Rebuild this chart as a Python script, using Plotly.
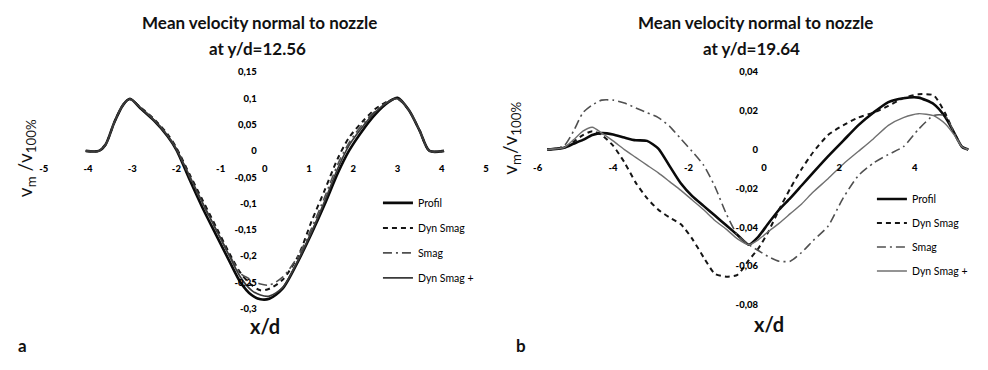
import plotly.graph_objects as go

# ---------------- panel a : y/d = 12.56 ----------------
xa = [-4.05, -3.75, -3.6, -3.4, -3.2, -3.05, -2.8, -2.5, -2.2, -2.0, -1.7, -1.4, -1.1,
      -0.8, -0.55, -0.3, -0.1, 0.1, 0.4, 0.75, 1.05, 1.35, 1.65, 1.9, 2.2, 2.5, 2.8,
      3.0, 3.25, 3.5, 3.72, 4.05]
a_profil = [0.0, 0.0, 0.012, 0.055, 0.088, 0.099, 0.08, 0.057, 0.028, 0.002, -0.055,
            -0.11, -0.16, -0.21, -0.25, -0.274, -0.282, -0.281, -0.262, -0.21, -0.158,
            -0.102, -0.042, 0.0, 0.038, 0.07, 0.093, 0.101, 0.078, 0.038, 0.0, 0.0]
a_dynsmag = [0.0, 0.0, 0.012, 0.055, 0.088, 0.098, 0.082, 0.06, 0.032, 0.006, -0.045,
             -0.095, -0.145, -0.195, -0.232, -0.255, -0.265, -0.262, -0.245, -0.2, -0.135,
             -0.075, -0.014, 0.025, 0.055, 0.08, 0.095, 0.099, 0.078, 0.038, 0.0, 0.0]
a_smag = [0.0, 0.0, 0.012, 0.055, 0.088, 0.098, 0.081, 0.059, 0.03, 0.004, -0.05,
          -0.102, -0.15, -0.198, -0.233, -0.245, -0.253, -0.255, -0.24, -0.2, -0.148,
          -0.088, -0.025, 0.015, 0.05, 0.076, 0.094, 0.1, 0.078, 0.038, 0.0, 0.0]
a_dynsmagp = [0.0, 0.0, 0.012, 0.055, 0.088, 0.099, 0.081, 0.058, 0.029, 0.003, -0.048,
              -0.1, -0.15, -0.2, -0.24, -0.265, -0.274, -0.276, -0.26, -0.208, -0.155,
              -0.096, -0.033, 0.01, 0.045, 0.074, 0.094, 0.099, 0.078, 0.038, 0.0, 0.0]

# ---------------- panel b : y/d = 19.64 ----------------
xb = [-5.75, -5.3, -5.05, -4.8, -4.55, -4.3, -4.0, -3.7, -3.4, -3.1, -2.8, -2.5, -2.2,
      -1.9, -1.6, -1.3, -1.0, -0.7, -0.4, -0.15, 0.1, 0.4, 0.7, 1.0, 1.3, 1.7, 2.1,
      2.5, 2.9, 3.3, 3.7, 4.1, 4.5, 4.8, 5.05, 5.25, 5.42]
b_profil = [0.0, 0.001, 0.003, 0.005, 0.0075, 0.0085, 0.0078, 0.0062, 0.0048, 0.0045,
            0.0005, -0.0085, -0.0175, -0.024, -0.029, -0.034, -0.039, -0.044, -0.049,
            -0.045, -0.0385, -0.031, -0.025, -0.0185, -0.012, -0.0035, 0.0045, 0.0125,
            0.019, 0.0245, 0.0265, 0.0268, 0.0235, 0.017, 0.0085, 0.0015, 0.0]
b_dynsmag = [0.0, 0.001, 0.004, 0.0075, 0.0095, 0.0075, 0.002, -0.0065, -0.017, -0.025,
             -0.031, -0.035, -0.0385, -0.046, -0.0555, -0.064, -0.0655, -0.0645, -0.057,
             -0.051, -0.043, -0.031, -0.02, -0.01, -0.0015, 0.0075, 0.0125, 0.0165, 0.019,
             0.0225, 0.0265, 0.0285, 0.028, 0.019, 0.0085, 0.0015, 0.0]
b_smag = [0.0, 0.002, 0.0095, 0.019, 0.023, 0.0255, 0.0255, 0.024, 0.0215, 0.019,
          0.0165, 0.012, 0.0055, -0.001, -0.008, -0.019, -0.033, -0.044, -0.049, -0.052,
          -0.055, -0.0575, -0.0575, -0.053, -0.047, -0.0395, -0.025, -0.0135, -0.007,
          -0.0025, 0.0015, 0.0105, 0.0175, 0.0175, 0.0085, 0.0015, 0.0]
b_dynsmagp = [0.0, 0.001, 0.005, 0.0095, 0.0115, 0.0085, 0.0045, 0.0, -0.004, -0.008,
              -0.012, -0.0165, -0.021, -0.026, -0.031, -0.0365, -0.041, -0.046, -0.049,
              -0.0465, -0.0425, -0.038, -0.033, -0.028, -0.022, -0.015, -0.0075, -0.001,
              0.0055, 0.0125, 0.0165, 0.0185, 0.0175, 0.0135, 0.0075, 0.0015, 0.0]

series_names = ["Profil", "Dyn Smag", "Smag", "Dyn Smag +"]

xa_ticks = [-5, -4, -3, -2, -1, 0, 1, 2, 3, 4, 5]
xa_ticktext = ["-5", "-4", "-3", "-2", "-1", "0", "1", "2", "3", "4", "5"]
ya_ticks = [0.15, 0.1, 0.05, 0, -0.05, -0.1, -0.15, -0.2, -0.25, -0.3]
ya_ticktext = ["0,15", "0,1", "0,05", "0", "-0,05", "-0,1", "-0,15", "-0,2", "-0,25", "-0,3"]
xb_ticks = [-6, -4, -2, 0, 2, 4]
xb_ticktext = ["-6", "-4", "-2", "0", "2", "4"]
yb_ticks = [0.04, 0.02, 0, -0.02, -0.04, -0.06, -0.08]
yb_ticktext = ["0,04", "0,02", "0", "-0,02", "-0,04", "-0,06", "-0,08"]

W, H = 988, 370

# line styles per series
styles = [
    dict(color="#0a0a0a", width=2.6, dash="solid"),
    dict(color="#151515", width=2.0, dash="5px,4px"),
    dict(color="#505050", width=1.6, dash="9px,4px,2px,4px"),
    dict(color="#3a3a3a", width=1.7, dash="solid"),
]

fig = go.Figure()

for name, ys, st in zip(series_names, [a_profil, a_dynsmag, a_smag, a_dynsmagp], styles):
    fig.add_trace(go.Scatter(x=xa, y=ys, mode="lines", name=name,
                             line=dict(st, shape="spline", smoothing=0.8),
                             xaxis="x", yaxis="y", legend="legend",
                             legendgroup="a" + name))
for name, ys, st in zip(series_names, [b_profil, b_dynsmag, b_smag, b_dynsmagp], styles):
    st_b = dict(st, shape="spline", smoothing=0.6)
    if name == "Dyn Smag +":
        st_b.update(color="#707070", width=1.4)
    fig.add_trace(go.Scatter(x=xb, y=ys, mode="lines", name=name, line=st_b,
                             xaxis="x2", yaxis="y2", legend="legend2",
                             legendgroup="b" + name))


def frac_x(px):
    return px / W


def frac_y(py):
    return 1 - py / H


# panel geometry (pixel extents of the axis ranges)
xa_range, xa_px = [-5, 5], (39, 485)
ya_range, ya_py = [-0.3, 0.15], (312, 68)
xb_range, xb_px = [-6, 5.6], (537, 978)
yb_range, yb_py = [-0.08, 0.04], (308, 68)


def zero_pos(rng, dom):
    return dom[0] + (0 - rng[0]) / (rng[1] - rng[0]) * (dom[1] - dom[0])


xa_dom = [frac_x(xa_px[0]), frac_x(xa_px[1])]
ya_dom = [frac_y(ya_py[0]), frac_y(ya_py[1])]
xb_dom = [frac_x(xb_px[0]), frac_x(xb_px[1])]
yb_dom = [frac_y(yb_py[0]), frac_y(yb_py[1])]

tickfont = dict(family="Lato", size=9.5, color="#000000", weight=900)
axis_common = dict(showgrid=False, zeroline=False, showline=False, ticks="",
                   tickfont=tickfont, fixedrange=True)
legend_font = dict(family="Lato", size=10.5, color="#000000")

fig.update_layout(
    width=W, height=H,
    margin=dict(l=0, r=0, t=0, b=0),
    paper_bgcolor="white", plot_bgcolor="white",
    xaxis=dict(domain=xa_dom, range=xa_range, anchor="free",
               position=zero_pos(ya_range, ya_dom), tickvals=xa_ticks,
               ticktext=xa_ticktext, ticklabelstandoff=11, **axis_common),
    yaxis=dict(domain=ya_dom, range=ya_range, anchor="free",
               position=zero_pos(xa_range, xa_dom), tickvals=ya_ticks,
               ticktext=ya_ticktext, ticklabelstandoff=8, **axis_common),
    xaxis2=dict(domain=xb_dom, range=xb_range, anchor="free",
                position=zero_pos(yb_range, yb_dom), tickvals=xb_ticks,
                ticktext=xb_ticktext, ticklabelstandoff=11, **axis_common),
    yaxis2=dict(domain=yb_dom, range=yb_range, anchor="free",
                position=zero_pos(xb_range, xb_dom), tickvals=yb_ticks,
                ticktext=yb_ticktext, ticklabelstandoff=6, **axis_common),
    legend=dict(x=frac_x(376), y=frac_y(188), xanchor="left", yanchor="top",
                font=legend_font, tracegroupgap=6, bgcolor="rgba(0,0,0,0)",
                itemwidth=30),
    legend2=dict(x=frac_x(874), y=frac_y(184), xanchor="left", yanchor="top",
                 font=legend_font, tracegroupgap=5, bgcolor="rgba(0,0,0,0)",
                 itemwidth=30),
    showlegend=True,
)

title_font = dict(family="Lato", size=17, color="#111111", weight="bold")
annotations = [
    dict(text="Mean velocity normal to nozzle", x=frac_x(257), y=frac_y(17), font=title_font),
    dict(text="at y/d=12.56", x=frac_x(255), y=frac_y(44), font=title_font),
    dict(text="Mean velocity normal to nozzle", x=frac_x(757), y=frac_y(17), font=title_font),
    dict(text="at y/d=19.64", x=frac_x(753), y=frac_y(44), font=title_font),
    dict(text="v<sub>m</sub> /v<sub>100%</sub>", x=frac_x(22), y=frac_y(157), textangle=-90,
         font=dict(family="Lato", size=19, color="#111111")),
    dict(text="v<sub>m</sub>/v<sub>100%</sub>", x=frac_x(510), y=frac_y(136), textangle=-90,
         font=dict(family="Lato", size=19, color="#111111")),
    dict(text="x/d", x=frac_x(262), y=frac_y(330),
         font=dict(family="Lato", size=20, color="#111111", weight="bold")),
    dict(text="x/d", x=frac_x(770), y=frac_y(328),
         font=dict(family="Lato", size=20, color="#111111", weight="bold")),
    dict(text="a", x=frac_x(18), y=frac_y(350),
         font=dict(family="Lato", size=17, color="#111111", weight="bold")),
    dict(text="b", x=frac_x(520), y=frac_y(350),
         font=dict(family="Lato", size=17, color="#111111", weight="bold")),
]
for ann in annotations:
    ann.update(xref="paper", yref="paper", showarrow=False, xanchor="center", yanchor="middle")
fig.update_layout(annotations=annotations)

fig.write_html("out.html")
